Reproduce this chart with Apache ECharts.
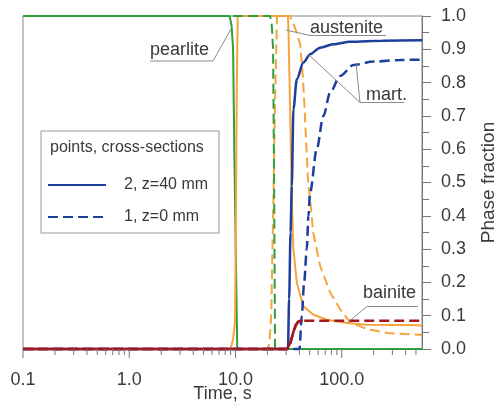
<!DOCTYPE html>
<html>
<head>
<meta charset="utf-8">
<script src="https://cdn.jsdelivr.net/npm/echarts@6/dist/echarts.min.js"></script>
<style>
  html, body { margin: 0; padding: 0; background: #fff; }
  #chart { width: 498px; height: 405px; }
</style>
</head>
<body>
<div id="chart"></div>
<script>
// [time s, phase fraction] -- point 2 (z=40 mm) solid, point 1 (z=0 mm) dashed
const pearlite2 = [[0.1, 1], [8.8, 1], [9.2, 0.97], [9.5, 0.9], [9.75, 0.6], [10.0, 0.35], [10.4, 0], [570, 0]];
const pearlite1 = [[0.1, 1], [21.2, 1], [22.0, 0.97], [22.6, 0.9], [23.1, 0.5], [23.6, 0], [570, 0]];

const austenite2 = [[0.1, 0], [9.0, 0], [9.5, 0.03], [9.9, 0.08], [10.1, 0.4], [10.3, 0.8], [10.5, 1],
  [31.2, 1], [31.6, 0.95], [32.3, 0.8], [33.0, 0.65], [33.7, 0.5], [34.3, 0.4], [35.1, 0.3], [37.8, 0.2],
  [43.6, 0.128], [54.2, 0.103], [72.4, 0.088], [111.7, 0.078], [172, 0.073], [524, 0.071], [570, 0.07]];
const austenite1 = [[0.1, 0], [20.3, 0], [21.0, 0.03], [21.7, 0.1], [22.6, 0.4], [23.6, 0.75], [24.6, 1],
  [32.7, 1], [37.8, 0.95], [40.6, 0.915], [42.4, 0.85], [44.3, 0.75], [46.3, 0.62], [48.3, 0.5], [50.4, 0.45],
  [53.9, 0.35], [62.6, 0.25], [77.8, 0.17], [96.6, 0.12], [120, 0.08], [172, 0.06], [267, 0.048], [524, 0.043], [570, 0.043]];

const martensite2 = [[0.1, 0], [31.2, 0], [32.0, 0.15], [33.0, 0.35], [33.9, 0.49], [35.1, 0.72], [37.8, 0.81],
  [43.6, 0.86], [50.4, 0.885], [62.6, 0.905], [83, 0.915], [120, 0.923], [245, 0.926], [570, 0.927]];
const martensite1 = [[0.1, 0], [40.0, 0], [42.1, 0.1], [44.3, 0.2], [46.9, 0.3], [48.6, 0.4], [50.4, 0.47],
  [58.2, 0.6], [67.3, 0.7], [77.8, 0.77], [96.6, 0.82], [129, 0.853], [199, 0.863], [355, 0.868], [570, 0.869]];

const bainite2 = [[0.1, 0], [30.6, 0], [31.8, 0.005], [33.0, 0.02], [35.0, 0.05], [37.0, 0.072], [39.0, 0.082], [41.0, 0.085], [43.0, 0.085]];
const bainite1 = [[0.1, 0], [30.6, 0], [31.8, 0.005], [33.0, 0.02], [35.0, 0.05], [37.0, 0.072], [39.0, 0.082], [41.0, 0.085], [570, 0.085]];

const xMajor = [0.1, 1, 10, 100];
const xMinor = [0.2, 0.3, 0.4, 0.5, 0.6, 0.7, 0.8, 0.9, 2, 3, 4, 5, 6, 7, 8, 9,
  20, 30, 40, 50, 60, 70, 80, 90, 200, 300, 400, 500];

const legendNames = ['2, z=40 mm', '1, z=0 mm'];

const FONT = 'Liberation Sans, Arial, sans-serif';
const TXT = '#3a3a3a';
const GREEN = '#2f9e3f', ORANGE = '#f6a53c', BLUE = '#1c3f9c', RED = '#a3171f';
const dash = [10, 5];

function line(name, data, color, width, dashed, z, smooth) {
  return {
    name: name, type: 'line', data: data, symbol: 'none', clip: false, z: z,
    smooth: smooth || false, smoothMonotone: 'x',
    lineStyle: { color: color, width: width, type: dashed ? dash : 'solid' },
    itemStyle: { color: color }
  };
}

// leader lines + labels
const notes = [
  { text: 'pearlite', x: 150, y: 50, pts: [[150, 61], [213, 61], [231, 29]] },
  { text: 'austenite', x: 310, y: 28, pts: [[286, 30], [310, 35.5], [386, 35.5]] },
  { text: 'mart.', x: 366, y: 95, pts: [[404, 102.5], [360, 102.5], [308, 54]] },
  { text: '', x: 0, y: 0, pts: [[360, 102.5], [356, 63]] },
  { text: 'bainite', x: 363, y: 293, pts: [[418, 306.5], [367, 306.5], [347, 323]] }
];
const graphics = [];
notes.forEach(n => {
  graphics.push({ type: 'polyline', z: 50, shape: { points: n.pts }, style: { stroke: '#8a8a8a', lineWidth: 1, fill: null } });
  if (n.text) {
    graphics.push({ type: 'text', z: 50, x: n.x, y: n.y,
      style: { text: n.text, font: '18px ' + FONT, fill: TXT, textVerticalAlign: 'middle' } });
  }
});
graphics.push({ type: 'text', z: 50, x: 50, y: 148,
  style: { text: 'points, cross-sections', font: '16px ' + FONT, fill: TXT, textVerticalAlign: 'middle' } });

const myChart = echarts.init(document.getElementById('chart'), null, { renderer: 'canvas' });
myChart.setOption({
  animation: false,
  backgroundColor: '#fff',
  grid: { left: 23, right: 76, top: 16, bottom: 56, outerBoundsMode: 'none', containLabel: false,
    show: true, borderColor: '#888', borderWidth: 1 },
  legend: {
    data: legendNames,
    orient: 'vertical', left: 41, top: 131,
    padding: [45, 11, 7, 6], itemGap: 14, itemWidth: 58, itemHeight: 14,
    borderColor: '#9a9a9a', borderWidth: 1, selectedMode: false,
    itemStyle: { opacity: 0 },
    textStyle: { fontFamily: FONT, fontSize: 16, color: TXT, lineHeight: 18, padding: [0, 0, 0, 13] }
  },
  xAxis: {
    type: 'log', logBase: 10, min: 0.1, max: 570,
    name: 'Time, s', nameLocation: 'middle', nameGap: 36, nameMoveOverlap: false,
    nameTextStyle: { fontFamily: FONT, fontSize: 18, color: TXT },
    axisLine: { show: true, lineStyle: { color: '#777' } },
    axisTick: { show: false },
    splitLine: { show: false },
    axisLabel: {
      margin: 22, fontFamily: FONT, fontSize: 18, color: TXT,
      formatter: v => {
        const hit = xMajor.find(m => Math.abs(m - v) / m < 1e-6);
        return hit !== undefined ? hit.toFixed(1) : '';
      }
    }
  },
  yAxis: {
    type: 'value', position: 'right', min: 0, max: 1, interval: 0.1,
    name: 'Phase fraction', nameLocation: 'middle', nameGap: 57, nameRotate: 90,
    nameTextStyle: { fontFamily: FONT, fontSize: 19, color: TXT },
    axisLine: { show: true, lineStyle: { color: '#777' } },
    axisTick: { show: true, length: 9, lineStyle: { color: '#777' } },
    minorTick: { show: true, splitNumber: 2, length: 7, lineStyle: { color: '#777' } },
    splitLine: { show: false },
    axisLabel: { margin: 19, fontFamily: FONT, fontSize: 18, color: TXT, formatter: v => v.toFixed(1) }
  },
  graphic: graphics,
  series: [
    line('pearlite 2', pearlite2, GREEN, 2, false, 2),
    line('pearlite 1', pearlite1, GREEN, 2, true, 3),
    line('austenite 2', austenite2, ORANGE, 2, false, 2),
    line('austenite 1', austenite1, ORANGE, 2, true, 2),
    line(legendNames[0], martensite2, BLUE, 2.5, false, 4, 0.3),
    line(legendNames[1], martensite1, BLUE, 2.5, true, 4, 0.3),
    line('bainite 2', bainite2, RED, 2.5, false, 5),
    line('bainite 1', bainite1, RED, 2.5, true, 5),
    {
      type: 'custom', silent: true, z: 6,
      data: xMajor.concat(xMinor).map(t => [t, 0]),
      renderItem: (params, api) => {
        const t = api.value(0);
        const p = api.coord([t, 0]);
        const len = xMajor.indexOf(t) >= 0 ? 9 : 6;
        return { type: 'line', shape: { x1: p[0], y1: p[1], x2: p[0], y2: p[1] + len },
          style: { stroke: '#777', lineWidth: 1 } };
      }
    }
  ]
});
</script>
</body>
</html>
